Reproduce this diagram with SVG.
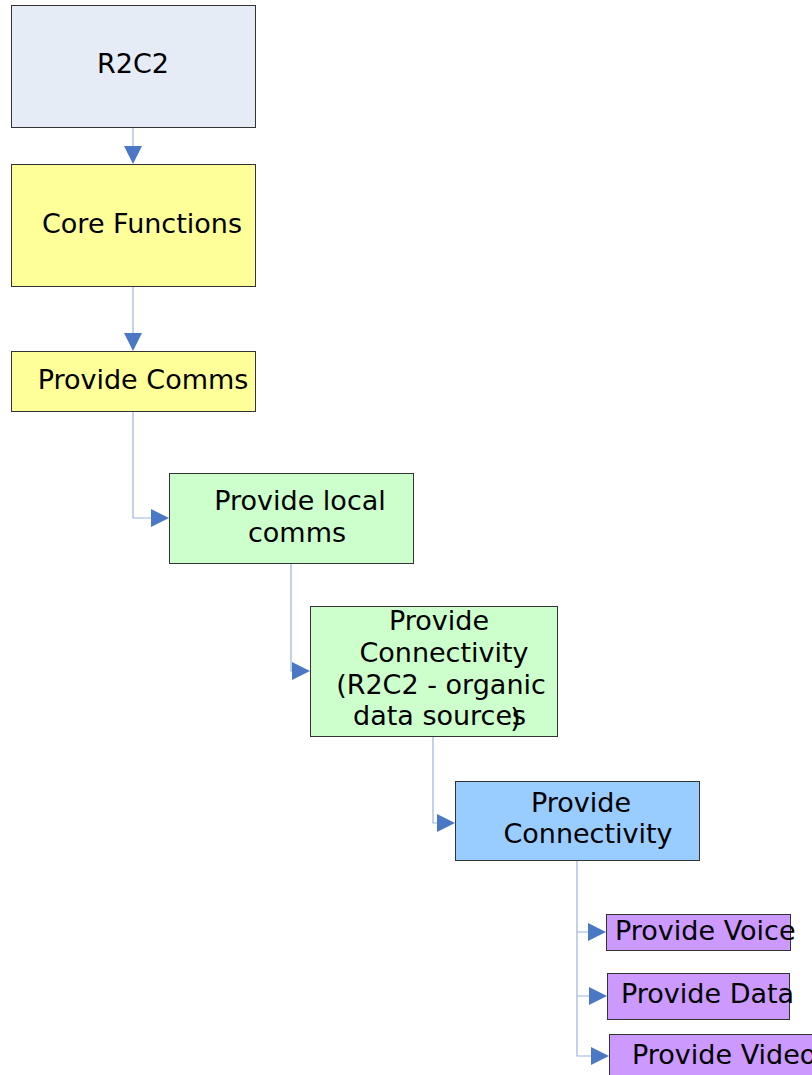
<svg xmlns="http://www.w3.org/2000/svg" width="812" height="1075" viewBox="0 0 812 1075">
<style>
.box{stroke:#333;stroke-width:1}
.t{font-family:"DejaVu Sans",Verdana,sans-serif;font-size:27px;fill:#000}
.c{fill:none;stroke:#9db4dd;stroke-width:1.2}
.a{fill:#4a78c4}
</style>
<rect width="812" height="1075" fill="#fff"/>
<g id="connectors">
<path class="c" d="M133,127V150"/><polygon class="a" points="124,146 142,146 133,164"/>
<path class="c" d="M133,286V336"/><polygon class="a" points="124,333 142,333 133,351"/>
<path class="c" d="M133,411V518H154"/><polygon class="a" points="151,509 151,527 169,518"/>
<path class="c" d="M291,563V671H295"/><polygon class="a" points="292,662 292,680 310,671"/>
<path class="c" d="M433,736V823H440"/><polygon class="a" points="437,814 437,832 455,823"/>
<path class="c" d="M577,860V1056H592M577,932H590M577,996H591"/>
<polygon class="a" points="588,923 588,941 606,932"/>
<polygon class="a" points="589,987 589,1005 607,996"/>
<polygon class="a" points="591,1047 591,1065 609,1056"/>
</g>
<g id="r2c2"><rect class="box" x="11.5" y="5.5" width="244" height="122" fill="#e6ecf6"/><text class="t" x="133" y="73" text-anchor="middle">R2C2</text></g>
<g id="core"><rect class="box" x="11.5" y="164.5" width="244" height="122" fill="#ffff99"/><text class="t" x="142" y="233" text-anchor="middle">Core Functions</text></g>
<g id="comms"><rect class="box" x="11.5" y="351.5" width="244" height="60" fill="#ffff99"/><text class="t" x="143" y="389" text-anchor="middle">Provide Comms</text></g>
<g id="local"><rect class="box" x="169.5" y="473.5" width="244" height="90" fill="#ccffcc"/><text class="t" text-anchor="middle"><tspan x="300" y="510">Provide local</tspan><tspan x="297" y="542">comms</tspan></text></g>
<g id="conn1"><rect class="box" x="310.5" y="606.5" width="247" height="130" fill="#ccffcc"/><text class="t" text-anchor="middle"><tspan x="439" y="630">Provide</tspan><tspan x="444" y="662">Connectivity</tspan><tspan x="441" y="694">(R2C2 - organic</tspan></text><text class="t" x="353" y="725">data sources<tspan dx="-16" dy="2">)</tspan></text></g>
<g id="conn2"><rect class="box" x="455.5" y="781.5" width="244" height="79" fill="#99ccff"/><text class="t" text-anchor="middle"><tspan x="581" y="812">Provide</tspan><tspan x="588" y="843">Connectivity</tspan></text></g>
<g id="voice"><rect class="box" x="606.5" y="914.5" width="184" height="36" fill="#cc99ff"/><text class="t" x="615" y="940">Provide Voice</text></g>
<g id="data"><rect class="box" x="607.5" y="973.5" width="182" height="46" fill="#cc99ff"/><text class="t" x="621" y="1003">Provide Data</text></g>
<g id="video"><rect class="box" x="609.5" y="1034.5" width="220" height="60" fill="#cc99ff"/><text class="t" x="632" y="1064">Provide Video</text></g>
</svg>
